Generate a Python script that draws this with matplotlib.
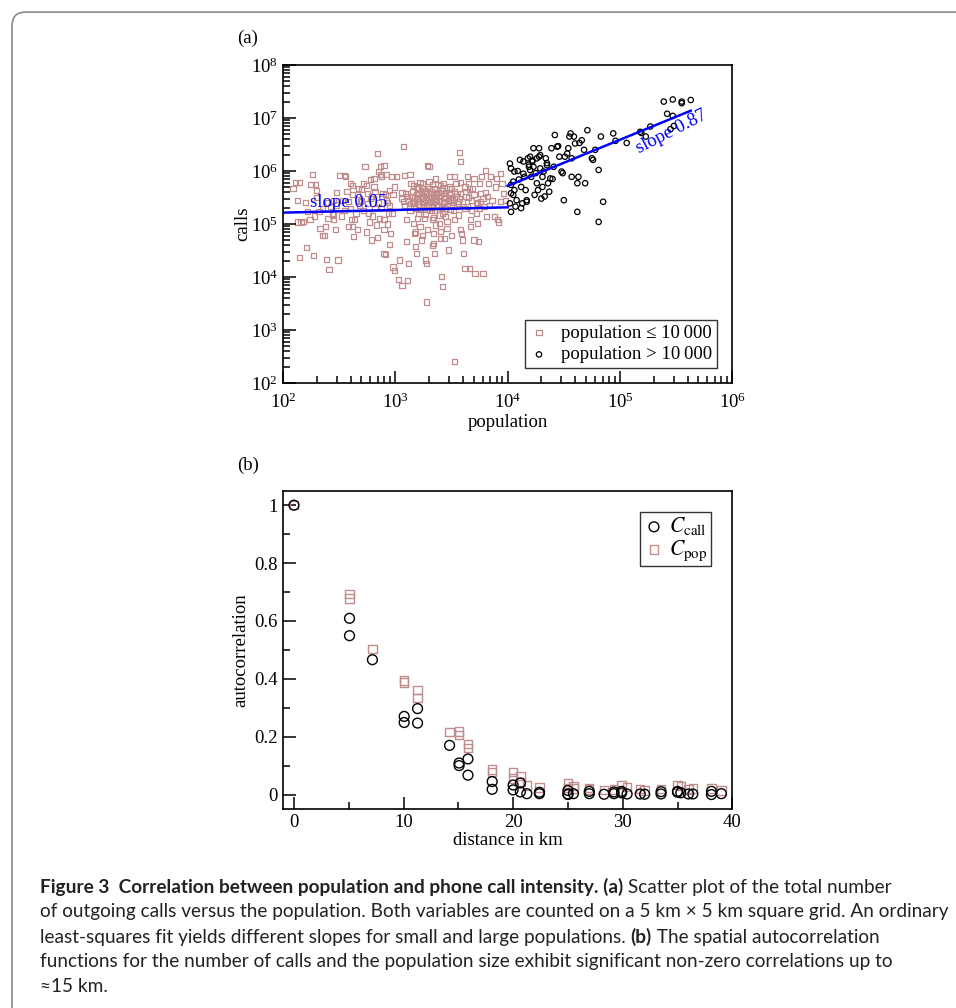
import matplotlib
matplotlib.use('Agg')
import matplotlib.pyplot as plt
import numpy as np
from matplotlib.patches import FancyBboxPatch
from matplotlib.ticker import LogLocator, MultipleLocator, FixedLocator

plt.rcParams['font.family'] = ['Liberation Serif', 'DejaVu Serif']
plt.rcParams['mathtext.fontset'] = 'stix'

# (a) log10 values, population <= 10 000
small_pop_log = [
    2.09, 2.11, 2.15, 2.13, 2.15, 2.13, 2.16, 2.21, 2.26, 2.25, 2.29, 2.27, 2.33, 2.35, 2.37, 2.39,
    2.41, 2.40, 2.42, 2.44, 2.45, 2.49, 2.50, 2.48, 2.22, 2.24, 2.30, 2.32, 2.45, 2.47,
    2.53, 2.55, 2.56, 2.57, 2.58, 2.60, 2.61, 2.62, 2.63, 2.62, 2.64, 2.66, 2.67, 2.69, 2.70, 2.72,
    2.73, 2.74, 2.75, 2.76, 2.77, 2.78, 2.79, 2.79, 2.81, 2.81, 2.82, 2.83, 2.85, 2.87, 2.87, 2.88,
    2.89, 2.90, 2.91, 2.90, 2.90, 2.91, 2.93, 2.94, 2.95, 2.96, 2.98, 2.99, 2.97, 2.84, 2.92,
    3.01, 3.03, 3.04, 3.06, 3.07, 3.07, 3.08, 3.09, 3.10, 3.10, 3.11, 3.12, 3.13, 3.14, 3.15, 3.16,
    3.16, 3.17, 3.18, 3.19, 3.19, 3.20, 3.21, 3.21, 3.22, 3.23, 3.24, 3.24, 3.25, 3.26, 3.27, 3.28,
    3.28, 3.29, 3.30, 3.30, 3.31, 3.32, 3.33, 3.34, 3.34, 3.35, 3.36, 3.37, 3.37, 3.38, 3.39, 3.39,
    3.40, 3.41, 3.42, 3.43, 3.43, 3.44, 3.45, 3.45, 3.46, 3.47, 3.48, 3.48, 3.49, 3.53,
    3.50, 3.51, 3.52, 3.53, 3.53, 3.54, 3.55, 3.56, 3.56, 3.57, 3.58, 3.58, 3.59, 3.60, 3.61, 3.62,
    3.62, 3.63, 3.64, 3.64, 3.65, 3.66, 3.67, 3.67, 3.68, 3.69, 3.70, 3.70, 3.71, 3.72, 3.73, 3.73,
    3.74, 3.75, 3.76, 3.76, 3.77, 3.78, 3.79, 3.80, 3.81, 3.82, 3.83, 3.85, 3.86, 3.88, 3.89, 3.90,
    3.91, 3.92, 3.94, 3.94, 3.95, 3.96, 3.98,
    3.12, 3.14, 3.15, 3.17, 3.18, 3.19, 3.20, 3.21, 3.22, 3.23, 3.24, 3.25, 3.26, 3.26, 3.27, 3.28,
    3.28, 3.29, 3.30, 3.31, 3.32, 3.32, 3.33, 3.34, 3.35, 3.35, 3.36, 3.37, 3.38, 3.39, 3.40, 3.41,
    3.42, 3.43, 3.44, 3.45, 3.46, 3.47, 3.48, 3.49, 3.50, 3.52, 3.53, 3.55, 3.57, 3.58, 3.60, 3.62,
    3.63, 3.65, 3.10, 3.08, 3.06, 3.16, 3.22, 3.30, 3.38, 3.27, 3.34, 3.42, 3.20, 3.46, 3.13, 3.36,
    3.29, 3.40, 3.24, 3.44, 3.33, 3.50, 3.18, 3.58, 3.66, 3.70, 3.68, 3.72, 3.75, 3.78, 3.80, 3.84,
    2.60, 2.65, 2.68, 2.72, 2.75, 2.78, 2.82, 2.85, 2.88, 2.92, 2.95, 2.98, 2.55, 2.62, 2.70, 2.80,
    2.86, 2.93, 2.97, 2.52, 2.58, 2.66, 2.74, 2.84, 2.90, 2.95, 2.99, 2.40, 2.35, 2.30, 2.45, 2.48,
    2.28, 2.20, 2.18, 2.38,
    3.23, 3.31, 3.37, 3.26, 3.41, 3.19, 3.34, 3.28, 3.45, 3.15, 3.39, 3.21, 3.47, 3.33, 3.25, 3.43,
    3.11, 3.36, 3.29, 3.51, 3.17, 3.40, 3.54, 3.06, 3.27, 3.44, 3.32, 3.22, 3.38, 3.48,
]
small_calls_log = [
    5.67, 5.79, 5.79, 5.45, 4.37, 5.04, 5.03, 4.56, 5.94, 5.75, 5.75, 4.41, 4.92, 4.79, 4.79, 4.33,
    4.14, 5.11, 5.33, 5.17, 5.45, 4.32, 5.92, 5.36, 5.23, 5.08, 5.64, 5.23, 5.08, 4.89,
    5.45, 5.92, 5.89, 5.61, 5.42, 5.77, 5.08, 4.95, 4.76, 5.72, 5.08, 5.55, 5.67, 5.42, 5.45, 5.77,
    6.08, 5.72, 5.38, 5.20, 5.04, 5.84, 5.52, 4.70, 5.70, 5.86, 5.30, 4.98, 5.99, 5.94, 6.08, 5.89,
    5.58, 5.08, 5.55, 6.11, 4.45, 4.43, 5.40, 5.20, 5.64, 4.82, 4.19, 4.13, 5.89, 6.33, 5.94,
    5.89, 3.96, 4.32, 3.84, 6.47, 5.42, 5.92, 5.58, 5.08, 4.67, 3.94, 4.26, 5.94, 5.77, 5.52, 5.33,
    5.01, 4.82, 4.57, 4.45, 5.70, 5.42, 5.58, 5.20, 4.95, 4.70, 5.77, 5.52, 5.33, 5.11, 4.32, 4.26,
    3.53, 6.11, 6.08, 5.67, 5.42, 5.26, 5.08, 4.82, 4.63, 4.45, 5.86, 5.58, 5.48, 5.33, 5.17, 5.01,
    4.73, 4.01, 3.82, 5.77, 5.58, 5.42, 5.30, 5.14, 4.92, 4.51, 5.89, 5.70, 5.45, 2.40,
    5.67, 5.45, 5.26, 5.08, 5.89, 5.77, 5.58, 5.39, 5.17, 6.35, 6.18, 4.89, 4.82, 4.70, 4.45, 4.16,
    5.70, 5.52, 5.33, 5.89, 5.77, 4.16, 5.08, 4.95, 5.45, 5.67, 4.70, 5.86, 4.07, 5.20, 5.39, 5.01,
    4.67, 5.77, 5.58, 5.42, 5.89, 4.06, 5.33, 6.01, 5.14, 5.52, 5.77, 5.89, 5.45, 5.14, 5.70, 5.86,
    5.08, 5.04, 5.42, 5.96, 5.77, 5.58, 5.45,
    5.45, 5.38, 5.62, 5.50, 5.30, 5.56, 5.66, 5.36, 5.48, 5.60, 5.40, 5.52, 5.28, 5.64, 5.46, 5.57,
    5.35, 5.70, 5.44, 5.50, 5.62, 5.32, 5.41, 5.55, 5.66, 5.25, 5.47, 5.36, 5.60, 5.44, 5.53, 5.31,
    5.68, 5.40, 5.50, 5.60, 5.35, 5.46, 5.57, 5.28, 5.50, 5.40, 5.62, 5.33, 5.48, 5.58, 5.42, 5.30,
    5.62, 5.50, 5.52, 5.35, 5.60, 5.72, 5.78, 5.80, 5.75, 5.18, 5.12, 5.20, 5.10, 5.05, 5.25, 4.98,
    4.90, 4.86, 4.78, 4.72, 4.60, 4.78, 4.85, 5.78, 5.66, 5.55, 5.25, 5.40, 5.30, 5.48, 5.60, 5.35,
    5.30, 5.20, 5.35, 5.25, 5.58, 5.48, 5.62, 5.40, 5.30, 5.45, 5.35, 5.55, 5.25, 5.55, 5.65, 5.15,
    5.10, 5.00, 5.20, 5.15, 4.95, 4.90, 4.85, 4.75, 4.90, 4.62, 5.70, 5.40, 5.30, 5.50, 5.20, 5.60,
    5.15, 5.40, 5.05, 4.95,
    5.52, 5.58, 5.44, 5.40, 5.63, 5.49, 5.37, 5.60, 5.53, 5.40, 5.27, 5.70, 5.43, 5.74, 5.33, 5.38,
    5.58, 5.55, 5.28, 5.46, 5.41, 5.72, 5.52, 5.48, 5.64, 5.24, 5.48, 5.28, 5.52, 5.66,
]

# (a) population > 10 000
large_pop_log = [
    4.02, 4.03, 4.03, 4.03, 4.02, 4.03, 4.05, 4.06, 4.06, 4.07, 4.08, 4.10, 4.11, 4.12, 4.13, 4.14,
    4.15, 4.16, 4.17, 4.17, 4.18, 4.19, 4.20, 4.20, 4.21, 4.22, 4.23, 4.23, 4.25, 4.26, 4.26, 4.27,
    4.28, 4.28, 4.29, 4.30, 4.31, 4.31, 4.32, 4.33, 4.34, 4.35, 4.36, 4.37, 4.38, 4.39, 4.41, 4.42,
    4.44, 4.45, 4.46, 4.48, 4.49, 4.50, 4.51, 4.53, 4.54, 4.55, 4.56, 4.57, 4.57, 4.59, 4.60, 4.62,
    4.62, 4.63, 4.64, 4.66, 4.68, 4.69, 4.71, 4.75, 4.76, 4.78, 4.81, 4.81, 4.83, 4.85, 4.94, 4.96,
    5.06, 5.18, 5.19, 5.23, 5.27, 5.39, 5.42, 5.45, 5.47, 5.47, 5.48, 5.55, 5.55, 5.63,
    4.19, 4.22, 4.09, 4.14, 4.24, 4.29, 4.35, 4.40, 4.05, 4.12,
]
large_calls_log = [
    6.14, 6.05, 5.74, 5.58, 5.39, 5.23, 5.80, 5.99, 5.64, 5.33, 5.45, 5.84, 6.21, 5.70, 5.39, 6.18,
    5.89, 5.64, 5.45, 5.42, 6.24, 6.08, 6.02, 6.27, 5.89, 6.18, 6.08, 6.43, 5.96, 6.24, 5.77, 5.64,
    6.43, 6.27, 6.05, 5.48, 5.89, 5.70, 5.99, 5.52, 6.24, 6.11, 5.77, 5.61, 5.86, 6.43, 6.08, 6.68,
    6.46, 6.47, 6.27, 5.99, 5.96, 5.45, 6.27, 6.33, 6.43, 6.65, 6.71, 6.24, 5.89, 6.65, 6.52, 5.77,
    5.23, 5.89, 6.53, 6.58, 6.40, 5.77, 6.77, 6.24, 6.21, 6.40, 6.02, 5.04, 6.65, 5.42, 6.71, 6.57,
    6.53, 6.74, 6.72, 6.65, 6.84, 7.31, 7.08, 6.79, 7.35, 7.04, 6.85, 7.31, 7.28, 7.34,
    6.12, 6.20, 6.00, 5.95, 5.55, 6.30, 6.15, 5.85, 5.55, 5.30,
]

# least squares fits (slope, log10 intercept at start, log10 range)
fit_small = (0.05, 5.215, 2.0, 4.0)
fit_large = (0.87, 5.72, 4.0, 5.63)

# (b) autocorrelation
dist_call = [0, 5.07, 5.07, 7.16, 10.06, 10.06, 11.28, 11.28, 14.2, 15.07, 15.07, 15.88, 15.88,
             18.09, 18.09, 20.0, 20.0, 20.66, 20.66, 21.25, 22.4, 22.4, 25.0, 25.0, 25.0, 25.5,
             26.95, 26.95, 28.3, 29.2, 29.2, 29.9, 29.9, 30.4, 31.6, 32.0, 33.5, 33.5, 35.0, 35.0,
             35.3, 36.0, 36.4, 38.1, 38.1, 39.0]
c_call = [1.0, 0.609, 0.549, 0.466, 0.270, 0.249, 0.297, 0.247, 0.170, 0.109, 0.100, 0.123, 0.067,
          0.045, 0.018, 0.033, 0.016, 0.040, 0.009, 0.003, 0.003, 0.008, 0.002, 0.014, 0.0, 0.003,
          0.003, 0.011, 0.001, 0.003, 0.009, 0.006, 0.011, 0.002, 0.002, 0.001, 0.002, 0.010, 0.008,
          0.011, 0.006, 0.002, 0.002, 0.0, 0.011, 0.003]
dist_pop = [0, 5.07, 5.07, 7.16, 10.06, 10.06, 11.28, 11.28, 14.2, 15.07, 15.07, 15.88, 15.88,
            18.09, 18.09, 20.0, 20.0, 20.66, 20.66, 21.25, 22.4, 25.0, 25.0, 25.5, 25.5, 26.95,
            26.95, 28.3, 29.2, 29.9, 30.4, 31.6, 32.0, 33.5, 35.0, 35.3, 36.0, 36.4, 38.1, 39.0]
c_pop = [1.0, 0.693, 0.678, 0.502, 0.394, 0.387, 0.362, 0.334, 0.215, 0.218, 0.205, 0.175, 0.161,
         0.086, 0.077, 0.078, 0.056, 0.063, 0.043, 0.031, 0.024, 0.038, 0.023, 0.030, 0.021, 0.022,
         0.017, 0.015, 0.017, 0.033, 0.025, 0.020, 0.014, 0.020, 0.033, 0.029, 0.017, 0.021, 0.021,
         0.014]

pink = '#c08c8c'
fs = 13.5

fig = plt.figure(figsize=(9.56, 10.08), dpi=100)

# rounded frame around figure and caption
frame = FancyBboxPatch((12 / 956, -0.05), 1.2, 0.988 + 0.05, transform=fig.transFigure,
                       boxstyle='round,pad=0,rounding_size=0.014', fill=False,
                       edgecolor='#8a8a8a', linewidth=1.2, clip_on=False)
fig.patches.append(frame)

def style_axis(ax):
    for s in ['top', 'right', 'bottom', 'left']:
        ax.spines[s].set_linewidth(1.2)
    ax.tick_params(which='both', direction='in', top=False, right=False, labelsize=fs, width=1.1)
    ax.tick_params(which='major', length=9)
    ax.tick_params(which='minor', length=5)

# ---- panel (a)
ax1 = fig.add_axes([0.296, 0.620, 0.470, 0.3155])
ax1.set_xscale('log')
ax1.set_yscale('log')
ax1.scatter(10 ** np.array(small_pop_log), 10 ** np.array(small_calls_log), marker='s', s=14,
            facecolors='none', edgecolors=pink, linewidths=0.9, label='population \u2264 10\u2009000')
ax1.scatter(10 ** np.array(large_pop_log), 10 ** np.array(large_calls_log), marker='o', s=15,
            facecolors='none', edgecolors='black', linewidths=0.9, label='population > 10\u2009000')
for slope, b0, x0, x1 in [fit_small, fit_large]:
    xs = np.array([x0, x1])
    ax1.plot(10 ** xs, 10 ** (b0 + slope * (xs - x0)), color='#0000ff', lw=1.8)
ax1.text(1.75e2, 10 ** 5.33, 'slope 0.05', color='#0000ff', fontsize=fs)
ax1.text(2.85e5, 10 ** 6.74, 'slope 0.87', color='#0000ff', fontsize=fs, rotation=27,
         ha='center', va='center')
ax1.set_xlim(1e2, 1e6)
ax1.set_ylim(1e2, 1e8)
ax1.xaxis.set_major_locator(LogLocator(base=10, numticks=10))
ax1.yaxis.set_major_locator(LogLocator(base=10, numticks=10))
ax1.xaxis.set_minor_locator(LogLocator(base=10, subs=np.arange(2, 10), numticks=20))
ax1.yaxis.set_minor_locator(LogLocator(base=10, subs=np.arange(2, 10), numticks=20))
style_axis(ax1)
ax1.tick_params(axis='x', which='major', pad=7)
ax1.set_xlabel('population', fontsize=fs, labelpad=1)
ax1.set_ylabel('calls', fontsize=fs, labelpad=0)
leg1 = ax1.legend(loc='lower right', fontsize=fs, frameon=True, fancybox=False, edgecolor='black',
                  handletextpad=0.7, borderpad=0.25, labelspacing=0.25, handlelength=1.0,
                  borderaxespad=0.8, markerscale=1.0)
leg1.get_frame().set_linewidth(1.0)
fig.text(237 / 956, 1 - 38 / 1008, '(a)', fontsize=fs, va='center')

# ---- panel (b)
ax2 = fig.add_axes([0.296, 0.1974, 0.470, 0.3158])
ax2.scatter(dist_call, c_call, marker='o', s=50, facecolors='none', edgecolors='black',
            linewidths=1.0, label='$C_{\\mathrm{call}}$', zorder=3)
ax2.scatter(dist_pop, c_pop, marker='s', s=36, facecolors='none', edgecolors=pink,
            linewidths=1.0, label='$C_{\\mathrm{pop}}$', zorder=2)
ax2.set_xlim(-1, 40)
ax2.set_ylim(-0.05, 1.05)
ax2.xaxis.set_major_locator(MultipleLocator(10))
ax2.xaxis.set_minor_locator(MultipleLocator(5))
ax2.yaxis.set_major_locator(FixedLocator([0, 0.2, 0.4, 0.6, 0.8, 1.0]))
ax2.yaxis.set_minor_locator(FixedLocator([0.1, 0.3, 0.5, 0.7, 0.9]))
ax2.set_yticklabels(['0', '0.2', '0.4', '0.6', '0.8', '1'])
style_axis(ax2)
ax2.set_xlabel('distance in km', fontsize=fs, labelpad=1)
ax2.set_ylabel('autocorrelation', fontsize=fs, labelpad=4)
leg2 = ax2.legend(loc='upper right', fontsize=fs + 2, frameon=True, fancybox=False,
                  edgecolor='black', handletextpad=0.2, borderpad=0.15, labelspacing=0.05,
                  handlelength=1.0, borderaxespad=1.0)
leg2.get_frame().set_linewidth(1.0)
fig.text(237 / 956, 1 - 465 / 1008, '(b)', fontsize=fs, va='center')

# ---- caption
cap_font = ['Lato', 'Open Sans', 'DejaVu Sans']
caption = [
    [('Figure 3  Correlation between population and phone call intensity. (a)', 'bold'),
     (' Scatter plot of the total number', 'normal')],
    [('of outgoing calls versus the population. Both variables are counted on a 5 km \u00d7 5 km '
      'square grid. An ordinary', 'normal')],
    [('least-squares fit yields different slopes for small and large populations. ', 'normal'),
     ('(b)', 'bold'), (' The spatial autocorrelation', 'normal')],
    [('functions for the number of calls and the population size exhibit significant non-zero '
      'correlations up to', 'normal')],
    [('\u224815 km.', 'normal')],
]
renderer = fig.canvas.get_renderer()
# size the caption so that the second line spans the same width as in the figure
probe = fig.text(0, 0, caption[1][0][0], fontsize=14, family=cap_font)
cap_size = 14 * 912 / probe.get_window_extent(renderer=renderer).width
probe.remove()
for i, runs in enumerate(caption):
    x = 40 / 956
    y = 1 - (887 + 25 * i) / 1008
    for s, w in runs:
        t = fig.text(x, y, s, fontsize=cap_size, weight=w, family=cap_font, va='center',
                     color='#222222')
        bb = t.get_window_extent(renderer=renderer)
        x += bb.width / fig.bbox.width

fig.savefig('out.png', dpi=100)
